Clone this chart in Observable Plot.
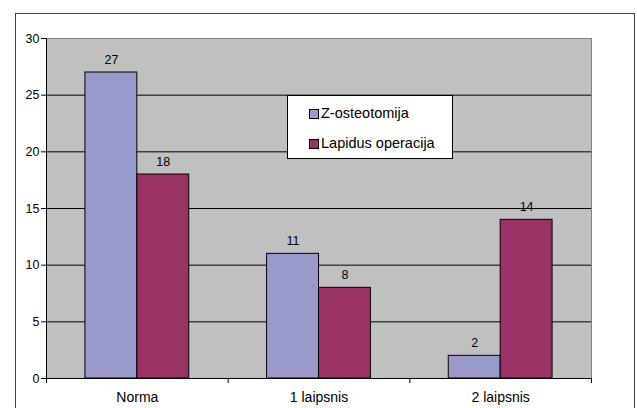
<!DOCTYPE html>
<html>
<head>
<meta charset="utf-8">
<script src="https://cdn.jsdelivr.net/npm/d3@7"></script>
<script src="https://cdn.jsdelivr.net/npm/@observablehq/plot@0.6"></script>
<style>
  html, body { margin: 0; padding: 0; background: #fff; overflow: hidden; }
  #wrap { position: relative; width: 637px; height: 408px; font-family: "Liberation Sans", Arial, sans-serif; }
  #frame { position: absolute; left: 15px; top: 13px; width: 620px; height: 410px; border: 1px solid #404040; box-sizing: border-box; pointer-events: none; }
  #legend { position: absolute; left: 287px; top: 95px; width: 166px; height: 64px; border: 1px solid #000; background: #fff; box-sizing: border-box; font-size: 14.5px; line-height: 17px; color: #000; }
  .item { position: absolute; left: 21px; display: flex; align-items: center; white-space: nowrap; }
  .sw { width: 8px; height: 8px; border: 1px solid #000; margin-right: 2px; }
  svg { position: absolute; left: 0; top: 0; }
</style>
</head>
<body>
<div id="wrap">
  <div id="chart"></div>
  <div id="frame"></div>
  <div id="legend"></div>
</div>
<script>
const categories = ["Norma", "1 laipsnis", "2 laipsnis"];
const seriesNames = ["Z-osteotomija", "Lapidus operacija"];
const zValues = [27, 11, 2];
const lapidusValues = [18, 8, 14];
const yTicks = [0, 5, 10, 15, 20, 25, 30];
const colors = ["#9999cc", "#993366"];

// bar width as fraction of category band (gap width 150%)
const w = 1 / 3.5;
const rows = [];
[zValues, lapidusValues].forEach((vals, s) => {
  vals.forEach((v, i) => {
    const x1 = i + 0.5 - w + s * w;
    rows.push({series: seriesNames[s], cat: categories[i], value: v, x1, x2: x1 + w, xc: x1 + w / 2});
  });
});

const chart = Plot.plot({
  width: 637,
  height: 408,
  marginLeft: 46,
  marginRight: 46,
  marginTop: 38,
  marginBottom: 30,
  style: {fontFamily: "'Liberation Sans', Arial, sans-serif", fontSize: "12.5px", background: "transparent", color: "#000"},
  x: {type: "linear", domain: [0, categories.length], axis: null},
  y: {domain: [0, 30], axis: null},
  color: {domain: seriesNames, range: colors},
  marks: [
    Plot.frame({fill: "#c0c0c0", stroke: "#808080"}),
    Plot.gridY(yTicks.filter(d => d > 0 && d < 30), {stroke: "#000", strokeOpacity: 1}),
    Plot.rectY(rows, {x1: "x1", x2: "x2", y: "value", fill: "series", stroke: "#000", strokeWidth: 1}),
    Plot.text(rows, {x: "xc", y: "value", text: d => String(d.value), dy: -13, fill: "#000"}),
    Plot.ruleX([0], {stroke: "#000"}),
    Plot.ruleY([0], {stroke: "#000"}),
    Plot.axisY({ticks: yTicks, tickSize: 5, tickPadding: 2, label: null, stroke: "#000"}),
    Plot.axisX({ticks: d3.range(categories.length + 1), tickSize: 5, tickFormat: () => "", label: null}),
    Plot.axisX({ticks: categories.map((c, i) => i + 0.5), tickSize: 0, tickPadding: 14, fontSize: 14, tickFormat: d => categories[Math.floor(d)], label: null})
  ]
});
document.getElementById("chart").appendChild(chart);

const legend = document.getElementById("legend");
seriesNames.forEach((name, i) => {
  const item = document.createElement("div");
  item.className = "item";
  item.style.top = (i === 0 ? 9 : 39) + "px";
  const sw = document.createElement("div");
  sw.className = "sw";
  sw.style.background = colors[i];
  const t = document.createElement("span");
  t.textContent = name;
  item.appendChild(sw);
  item.appendChild(t);
  legend.appendChild(item);
});
</script>
</body>
</html>
